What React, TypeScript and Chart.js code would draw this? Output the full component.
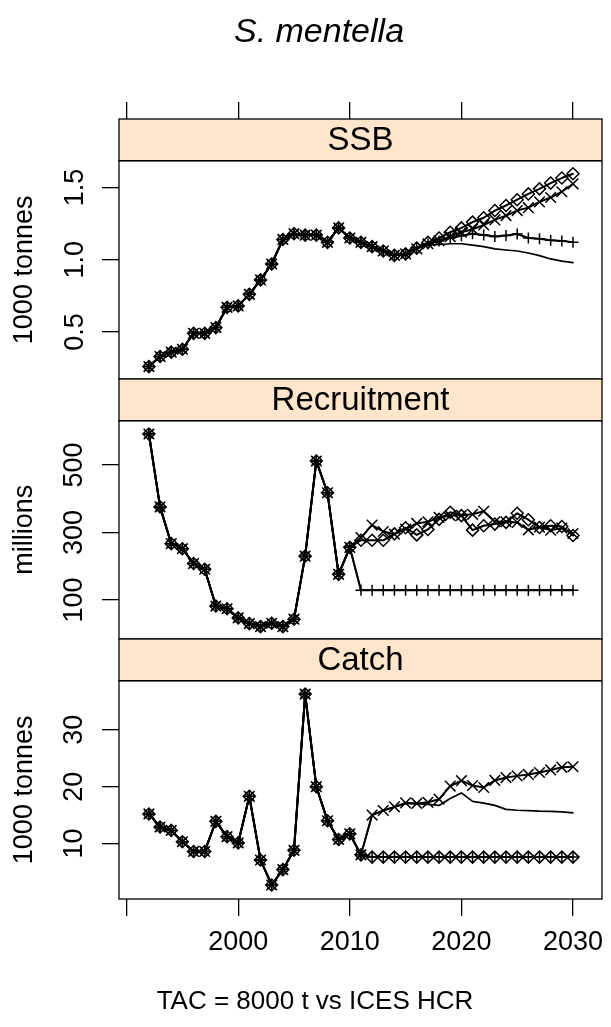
import React, { useEffect, useRef } from "react";
import { Chart, registerables } from "chart.js";

Chart.register(...registerables);

const FONT = "'Liberation Sans', Arial, Helvetica, sans-serif";

// Years of the plot
const YEARS = [
  1992, 1993, 1994, 1995, 1996, 1997, 1998, 1999, 2000, 2001,
  2002, 2003, 2004, 2005, 2006, 2007, 2008, 2009, 2010, 2011,
  2012, 2013, 2014, 2015, 2016, 2017, 2018, 2019, 2020, 2021,
  2022, 2023, 2024, 2025, 2026, 2027, 2028, 2029, 2030,
];

// SSB (1000 tonnes): history 1992-2015, projections 2016-2030
const SSB_HIST = [
  0.26, 0.33, 0.36, 0.38, 0.49, 0.49, 0.53, 0.67, 0.68, 0.76,
  0.86, 0.97, 1.14, 1.18, 1.17, 1.17, 1.12, 1.22, 1.15, 1.12,
  1.09, 1.06, 1.03, 1.04,
];
const SSB_A = [1.08, 1.12, 1.15, 1.19, 1.22, 1.26, 1.29, 1.34, 1.375, 1.415, 1.455, 1.49, 1.53, 1.565, 1.595];
const SSB_B = [1.085, 1.11, 1.13, 1.15, 1.165, 1.18, 1.17, 1.16, 1.167, 1.178, 1.15, 1.144, 1.135, 1.13, 1.12];
const SSB_C = [1.075, 1.11, 1.13, 1.16, 1.19, 1.21, 1.24, 1.275, 1.305, 1.34, 1.36, 1.4, 1.43, 1.47, 1.525];
const SSB_D = [1.085, 1.1, 1.105, 1.11, 1.11, 1.1, 1.09, 1.075, 1.067, 1.06, 1.046, 1.028, 1.005, 0.99, 0.98];

// Recruitment (millions): history 1992-2010, projections 2011-2030
const REC_HIST = [592, 376, 267, 252, 208, 191, 82, 74, 47, 30, 21, 31, 21, 43, 230, 512, 418, 176, 256];
const REC_A = [277, 277, 277, 296, 314, 293, 309, 339, 360, 350, 307, 320, 325, 330, 357, 338, 315, 320, 318, 291];
const REC_B = [129, 129, 129, 129, 129, 129, 129, 129, 129, 129, 129, 129, 129, 129, 129, 129, 129, 129, 129, 129];
const REC_C = [285, 322, 303, 295, 310, 327, 332, 345, 350, 351, 354, 363, 332, 332, 330, 308, 316, 307, 313, 297];
const REC_D = [129, 129, 129, 129, 129, 129, 129, 129, 129, 129, 129, 129, 129, 129, 129, 129, 129, 129, 129, 129];

// Catch (1000 tonnes): history 1992-2011, projections 2012-2030
const CATCH_HIST = [15.2, 12.9, 12.3, 10.3, 8.6, 8.6, 13.9, 11.2, 10.1, 18.3, 7.1, 2.7, 5.4, 8.8, 36.3, 20.0, 14.0, 10.7, 11.7, 8.0];
const CATCH_A = [7.6, 7.6, 7.6, 7.6, 7.6, 7.6, 7.6, 7.6, 7.6, 7.6, 7.6, 7.6, 7.6, 7.6, 7.6, 7.6, 7.6, 7.6, 7.6];
const CATCH_B = [7.6, 7.6, 7.6, 7.6, 7.6, 7.6, 7.6, 7.6, 7.6, 7.6, 7.6, 7.6, 7.6, 7.6, 7.6, 7.6, 7.6, 7.6, 7.6];
const CATCH_C = [15.0, 15.8, 16.45, 17.15, 17.05, 17.25, 17.8, 20.1, 21.05, 20.2, 19.85, 21.1, 21.6, 21.9, 22.15, 22.5, 22.95, 23.4, 23.5];
const CATCH_D = [15.0, 15.8, 16.4, 17.0, 17.0, 16.9, 16.7, 17.9, 18.9, 17.4, 17.1, 16.7, 16.0, 15.85, 15.8, 15.7, 15.65, 15.55, 15.4];

// Axes
const X_TICKS = [1990, 2000, 2010, 2020, 2030];
const X_TICK_LABELS = ["", "2000", "2010", "2020", "2030"];
const SSB_TICKS = [0.5, 1.0, 1.5];
const SSB_TICK_LABELS = ["0.5", "1.0", "1.5"];
const REC_TICKS = [100, 300, 500];
const REC_TICK_LABELS = ["100", "300", "500"];
const CATCH_TICKS = [10, 20, 30];
const CATCH_TICK_LABELS = ["10", "20", "30"];

const PANEL_TITLES = ["SSB", "Recruitment", "Catch"];
const Y_TITLES = ["1000 tonnes", "millions", "1000 tonnes"];
const MAIN_TITLE = "S. mentella";
const X_TITLE = "TAC = 8000 t vs ICES HCR";

const toPts = (vals: number[]) => vals.map((v, i) => ({ x: YEARS[i], y: v }));

type Style = { ps: any; r: number; lw: number };
const ST_A: Style = { ps: "rectRot", r: 6, lw: 2 };
const ST_B: Style = { ps: "cross", r: 5.5, lw: 2 };
const ST_C: Style = { ps: "crossRot", r: 7.5, lw: 2 };
const ST_D: Style = { ps: "star", r: 6, lw: 1.7 };

function ds(label: string, vals: number[], yAxisID: string, st: Style, histOnly = 0) {
  const radius = histOnly > 0 ? (c: any) => (c.dataIndex < histOnly ? st.r : 0) : st.r;
  return {
    label,
    data: toPts(vals),
    xAxisID: "x",
    yAxisID,
    borderColor: "#000",
    borderWidth: st.lw,
    borderJoinStyle: "round",
    borderCapStyle: "round",
    pointStyle: st.ps,
    pointRadius: radius,
    pointHoverRadius: radius,
    pointBorderWidth: 1.5,
    pointBorderColor: "#000",
    pointBackgroundColor: "rgba(0,0,0,0)",
    fill: false,
    tension: 0,
  };
}

const tickFont = { family: FONT, size: 27 };

function yPanel(weight: number, min: number, max: number, ticks: number[], labels: string[], title: string, pad: number) {
  return {
    type: "linear",
    position: "left",
    stack: "p",
    stackWeight: 218.3,
    weight,
    min,
    max,
    afterBuildTicks: (s: any) => {
      s.ticks = ticks.map((v) => ({ value: v }));
    },
    afterFit: (s: any) => {
      s.width = 119;
      s.paddingTop = 0;
      s.paddingBottom = 0;
    },
    grid: { display: true, drawOnChartArea: false, drawTicks: true, tickLength: 17, color: "#000", lineWidth: 1.3 },
    border: { display: false },
    ticks: {
      autoSkip: false,
      minRotation: 90,
      maxRotation: 90,
      crossAlign: "center",
      padding: pad,
      color: "#000",
      font: tickFont,
      callback: (_v: any, i: number) => labels[i],
    },
    title: { display: true, text: title, color: "#000", font: { family: FONT, size: 27 }, padding: { top: 8, bottom: 0 } },
  };
}

function yStrip(weight: number) {
  return {
    type: "linear",
    position: "left",
    stack: "p",
    stackWeight: 41.7,
    weight,
    min: 0,
    max: 1,
    afterFit: (s: any) => {
      s.width = 119;
      s.paddingTop = 0;
      s.paddingBottom = 0;
    },
    grid: { display: false },
    border: { display: false },
    ticks: { display: false },
  };
}

const STRIPS: [string, string, string][] = [
  ["sSSB", "ySSB", PANEL_TITLES[0]],
  ["sRec", "yRec", PANEL_TITLES[1]],
  ["sCatch", "yCatch", PANEL_TITLES[2]],
];

const stripPlugin = {
  id: "latticeStrips",
  afterDatasetsDraw(chart: any) {
    const { ctx, chartArea } = chart;
    const L = chartArea.left;
    const R = chartArea.right;
    ctx.save();
    ctx.lineWidth = 1.3;
    ctx.strokeStyle = "#000";
    for (const [sid, pid, label] of STRIPS) {
      const s = chart.scales[sid];
      ctx.fillStyle = "#FFE5CC";
      ctx.fillRect(L, s.top, R - L, s.bottom - s.top);
      ctx.strokeRect(L, s.top, R - L, s.bottom - s.top);
      ctx.fillStyle = "#000";
      ctx.font = `33px ${FONT}`;
      ctx.textAlign = "center";
      ctx.textBaseline = "middle";
      ctx.fillText(label, (L + R) / 2, (s.top + s.bottom) / 2 + 1);
      const p = chart.scales[pid];
      ctx.strokeRect(L, p.top, R - L, p.bottom - p.top);
    }
    ctx.restore();
  },
};

export default function App() {
  const ref = useRef<HTMLCanvasElement | null>(null);

  useEffect(() => {
    if (!ref.current) return;
    const xCommon = {
      type: "linear",
      min: 1989.32,
      max: 2032.6,
      afterBuildTicks: (s: any) => {
        s.ticks = X_TICKS.map((v) => ({ value: v }));
      },
      grid: { display: true, drawOnChartArea: false, drawTicks: true, tickLength: 17, color: "#000", lineWidth: 1.3 },
      border: { display: false },
    };
    const chart = new Chart(ref.current, {
      type: "line",
      data: {
        datasets: [
          ds("SSB TAC A", [...SSB_HIST, ...SSB_A], "ySSB", ST_A),
          ds("SSB TAC B", [...SSB_HIST, ...SSB_B], "ySSB", ST_B),
          ds("SSB HCR C", [...SSB_HIST, ...SSB_C], "ySSB", ST_C),
          ds("SSB HCR D", [...SSB_HIST, ...SSB_D], "ySSB", ST_D, SSB_HIST.length),
          ds("Rec TAC A", [...REC_HIST, ...REC_A], "yRec", ST_A),
          ds("Rec TAC B", [...REC_HIST, ...REC_B], "yRec", ST_B),
          ds("Rec HCR C", [...REC_HIST, ...REC_C], "yRec", ST_C),
          ds("Rec HCR D", [...REC_HIST, ...REC_D], "yRec", ST_D, REC_HIST.length),
          ds("Catch TAC A", [...CATCH_HIST, ...CATCH_A], "yCatch", ST_A),
          ds("Catch TAC B", [...CATCH_HIST, ...CATCH_B], "yCatch", ST_B),
          ds("Catch HCR C", [...CATCH_HIST, ...CATCH_C], "yCatch", ST_C),
          ds("Catch HCR D", [...CATCH_HIST, ...CATCH_D], "yCatch", ST_D, CATCH_HIST.length),
        ] as any,
      },
      options: {
        animation: false,
        responsive: false,
        maintainAspectRatio: false,
        events: [],
        layout: { padding: { top: 101, right: 5, bottom: 0, left: 0 } },
        plugins: { legend: { display: false }, title: { display: false }, tooltip: { enabled: false } },
        scales: {
          x: {
            ...xCommon,
            position: "bottom",
            afterFit: (s: any) => {
              s.height = 128;
              s.paddingLeft = 0;
              s.paddingRight = 0;
            },
            ticks: {
              autoSkip: false,
              maxRotation: 0,
              minRotation: 0,
              padding: 10,
              color: "#000",
              font: tickFont,
              callback: (_v: any, i: number) => X_TICK_LABELS[i],
            },
          },
          xTop: {
            ...xCommon,
            position: "top",
            afterFit: (s: any) => {
              s.height = 18;
              s.paddingLeft = 0;
              s.paddingRight = 0;
            },
            ticks: { display: false },
          },
          sSSB: yStrip(6),
          ySSB: yPanel(5, 0.174, 1.685, SSB_TICKS, SSB_TICK_LABELS, Y_TITLES[0], 8),
          sRec: yStrip(4),
          yRec: yPanel(3, -15.7, 631.5, REC_TICKS, REC_TICK_LABELS, Y_TITLES[1], 4.5),
          sCatch: yStrip(2),
          yCatch: yPanel(1, 0.23, 38.65, CATCH_TICKS, CATCH_TICK_LABELS, Y_TITLES[2], 12),
        } as any,
      },
      plugins: [stripPlugin],
    } as any);
    return () => chart.destroy();
  }, []);

  return (
    <div style={{ position: "absolute", left: 0, top: 0, width: 611, height: 1027, background: "#fff", overflow: "hidden" }}>
      <canvas ref={ref} width={611} height={1027} style={{ position: "absolute", left: 0, top: 0, width: 611, height: 1027 }} />
      <div
        style={{
          position: "absolute",
          left: 0,
          top: 13,
          width: 638,
          textAlign: "center",
          fontFamily: FONT,
          fontStyle: "italic",
          fontSize: 34,
          lineHeight: "34px",
          whiteSpace: "nowrap",
          color: "#000",
        }}
      >
        {MAIN_TITLE}
      </div>
      <div
        style={{
          position: "absolute",
          left: 0,
          top: 987,
          width: 630,
          textAlign: "center",
          fontFamily: FONT,
          fontSize: 26,
          lineHeight: "26px",
          whiteSpace: "nowrap",
          color: "#000",
        }}
      >
        {X_TITLE}
      </div>
    </div>
  );
}
